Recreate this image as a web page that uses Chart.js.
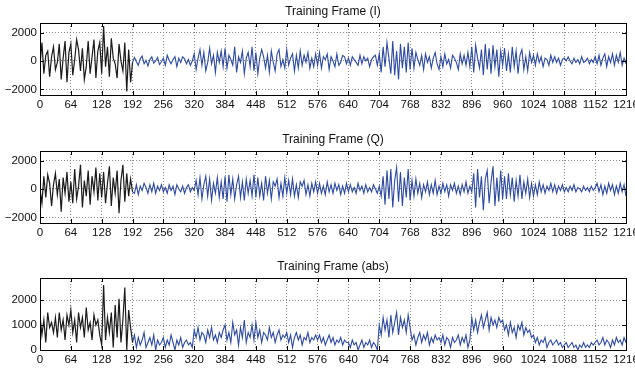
<!DOCTYPE html>
<html>
<head>
<meta charset="utf-8">
<script src="https://cdn.jsdelivr.net/npm/chart.js@4/dist/chart.umd.min.js"></script>
<style>
  body { margin: 0; background: #fff; }
  #wrap { position: relative; width: 635px; height: 370px; overflow: hidden; }
  canvas { position: absolute; left: 0; }
</style>
</head>
<body>
<div id="wrap">
  <canvas id="chartI" width="635" height="120" style="top:0px"></canvas>
  <canvas id="chartQ" width="635" height="120" style="top:128px"></canvas>
  <canvas id="chartAbs" width="635" height="115" style="top:255px"></canvas>
</div>
<script>
// sample spacing of the values below, and where the training part (black) ends
const STEP = 4;
const SPLIT = 192;

const X_TICKS = [0, 64, 128, 192, 256, 320, 384, 448, 512, 576, 640, 704, 768, 832, 896, 960, 1024, 1088, 1152, 1216];
const IQ_TICKS = [-2000, 0, 2000];
const ABS_TICKS = [0, 1000, 2000];

const TITLES = ['Training Frame (I)', 'Training Frame (Q)', 'Training Frame (abs)'];

// one line = 64 samples (16 values)
const I_VALUES = [
  -300, 1300, -900, 400, 700, -1100, 300, 1000, -600, -100, 1200, -1300, 200, 1400, -1500, 600,
  1200, -1000, 100, 1500, 800, -700, 900, -1300, -400, 1400, -900, 300, 1500, -1200, 700, 1300,
  -900, 2450, -400, 1000, -1100, 1600, 200, -200, -1200, 1200, 0, -700, 1300, -2150, 800, -1500,
  -100, 250, -50, -300, 150, 350, -200, 50, -350, 100, 300, -150, 0, 250, -250, -50,
  200, -300, 400, 50, -200, 100, 300, -400, 200, -100, 300, 150, -200, 100, -300, 0,
  500, -600, 200, 800, -300, 600, -700, -100, 900, -200, 400, -800, 600, -100, 700, -400,
  900, -500, 400, 100, -300, 1000, -800, 300, -100, 700, -900, 200, 600, -400, 1000, -700,
  600, -900, 200, 800, 300, -500, 400, -800, 700, -100, -700, 500, 800, -400, 100, -500,
  800, -300, 200, 500, -700, 400, -500, 700, -300, 400, -100, 600, -500, 200, -400, 500,
  -300, 600, -500, 300, 100, 500, -600, 300, 0, -400, 500, -300, -100, 400, 300, -200,
  200, -300, 300, 100, -100, -300, 400, -200, 300, 0, 200, -400, 100, 300, 400, -300,
  500, -800, 1000, -400, 1300, 200, -900, 1400, -1000, 700, -1300, 1200, -500, 1000, -800, 1300,
  -600, 900, -500, 600, 100, -300, 400, -600, 500, -100, 300, -500, 200, 600, -200, -600,
  300, -400, 500, -200, 100, -500, 400, 200, -100, -600, 500, -200, 400, -300, 600, -400,
  1000, -800, 1100, 200, -500, 800, -1000, 1200, -600, 900, -900, 1100, -400, 800, -1100, 700,
  -300, 900, -700, 500, -800, 1000, -400, 700, -900, 400, 800, -600, 300, -700, 600, -100,
  400, -300, 500, -100, 300, -400, 200, 100, -300, 400, -100, 300, -100, 200, -300, 100,
  200, 0, 300, 0, -200, 200, -100, 100, -200, 300, -100, 0, 200, -200, 100, -100,
  300, -200, 400, -300, 200, 500, -400, 300, -100, 500, -300, 400, -100, 600, -300, 200,
  -200
];

const Q_VALUES = [
  0, -1000, 900, -600, 1000, 400, -1200, 300, 1100, -400, 700, -1600, 800, -300, 1200, -900,
  500, -1000, 1400, -700, 200, 1700, -1300, 600, -500, 1300, -1100, 900, -200, 1500, -800, 1100,
  -600, 1200, -1000, 400, 1600, -1200, 800, -300, 1300, -1700, 600, 1700, -900, 1100, -500, 700,
  -200, -300, 300, -400, 200, -100, 400, 100, -300, 300, -200, 400, -300, 200, -100, 300,
  -200, 100, -300, 300, -100, 200, -400, 300, 0, -200, 200, -300, 100, 300, -200, 100,
  -100, 600, -400, 800, -700, 300, 900, -500, 700, -800, 400, -300, 800, -600, 500, -700,
  900, -900, 1000, -400, 700, -700, 300, 900, -600, 500, -800, 700, -300, 600, -500, 1000,
  -600, 800, -500, 400, -800, 900, -300, 600, -700, 500, 200, 700, -600, 400, -500, 800,
  -300, 600, -400, 700, -500, 300, -600, 500, 200, 600, -400, 300, -500, 400, -200, 500,
  -300, 400, -300, 200, -400, 500, -200, 300, -300, 400, -100, 300, -400, 200, -300, 400,
  -200, 300, -200, 100, -300, 400, -100, 200, -300, 300, -200, 100, -200, 300, 0, -300,
  200, -500, 900, -1100, 1300, -700, 1400, -1300, 600, 1500, -900, 1200, -1200, 800, -600, 1400,
  -800, 600, -500, 700, -300, 400, -600, 300, -200, 500, -400, 300, -300, 600, -400, 200,
  -300, 400, -200, 300, -500, 300, -100, 400, -300, 200, -400, 300, -200, 500, -300, 200,
  -200, 1100, -1300, 1400, -600, 900, -1500, 700, 1300, -1000, 500, 1600, -1200, 800, -900, 1300,
  -700, 900, -700, 1100, -400, 800, -900, 600, -500, 1000, -700, 500, -300, 700, -600, 400,
  -500, 300, -400, 500, -200, 300, -300, 200, -100, 400, -200, 300, -300, 200, -100, 300,
  -200, 100, -200, 200, -100, 300, -200, 100, 0, -200, 200, -100, 100, -200, 200, -100,
  100, 400, -200, 300, -400, 200, -300, 400, -100, 300, -400, 200, -300, 400, -200, 300,
  -500
];

const ABS_VALUES = [
  1400, 600, 1200, 300, 1500, 900, 1100, 700, 1300, 500, 1500, 800, 1200, 400, 1400, 1000,
  1600, 700, 1200, 300, 1500, 900, 1300, 500, 1700, 800, 1100, 400, 1400, 1000, 1200, 600,
  200, 2600, 400, 1300, 700, 1500, 100, 1800, 500, 2050, 300, 1200, 2500, 0, 1600, 900,
  300, 600, 100, 500, 200, 400, 700, 100, 300, 500, 200, 600, 0, 400, 200, 300,
  500, 100, 400, 200, 600, 300, 0, 400, 200, 500, 100, 300, 400, 200, 300, 100,
  800, 500, 900, 400, 700, 600, 300, 800, 500, 900, 400, 600, 300, 700, 500, 800,
  1000, 400, 700, 300, 1100, 600, 800, 200, 900, 500, 1200, 300, 700, 500, 1000, 400,
  1100, 500, 800, 300, 700, 600, 400, 900, 500, 700, 300, 600, 800, 400, 600, 500,
  700, 300, 600, 100, 500, 700, 400, 600, 200, 500, 400, 700, 300, 500, 400, 600,
  400, 600, 300, 500, 200, 400, 600, 300, 500, 200, 400, 300, 500, 200, 400, 300,
  300, 100, 400, 200, 300, 0, 200, 400, 100, 300, 200, 400, 100, 300, 200, 0,
  1000, 600, 1300, 800, 1200, 500, 1400, 700, 1100, 1500, 600, 1300, 900, 1200, 700, 1400,
  900, 400, 600, 200, 500, 700, 300, 600, 400, 700, 200, 500, 300, 600, 400, 500,
  300, 600, 200, 500, 400, 100, 500, 300, 400, 600, 200, 500, 300, 600, 100, 400,
  1300, 800, 1200, 700, 1100, 1400, 900, 1200, 1500, 800, 1300, 1000, 1200, 900, 1300, 1100,
  1200, 800, 1000, 600, 1100, 700, 900, 500, 1000, 800, 1100, 600, 900, 700, 800, 500,
  600, 300, 500, 200, 400, 300, 500, 100, 300, 400, 200, 300, 400, 200, 300, 100,
  200, 300, 100, 200, 300, 100, 200, 0, 200, 100, 300, 100, 200, 100, 300, 200,
  300, 400, 200, 300, 500, 200, 400, 300, 100, 400, 200, 500, 300, 400, 200, 500,
  300
];

const FONT = '"Liberation Sans", Arial, Helvetica, sans-serif';
const BLACK = '#1b1b1b';
const BLUE = '#2d4a9e';

// box, inward tick marks on all four sides and the title (MATLAB look)
const frameBox = {
  id: 'frameBox',
  afterDatasetsDraw(chart, args, opts) {
    const { ctx, chartArea: a, scales } = chart;
    const tl = 4;
    ctx.save();
    ctx.strokeStyle = '#000';
    ctx.lineWidth = 1;
    ctx.strokeRect(Math.round(a.left) + 0.5, Math.round(a.top) + 0.5, Math.round(a.width), Math.round(a.height));
    ctx.beginPath();
    scales.x.ticks.forEach(t => {
      const px = Math.round(scales.x.getPixelForValue(t.value)) + 0.5;
      ctx.moveTo(px, a.bottom); ctx.lineTo(px, a.bottom - tl);
      ctx.moveTo(px, a.top); ctx.lineTo(px, a.top + tl);
    });
    scales.y.ticks.forEach(t => {
      const py = Math.round(scales.y.getPixelForValue(t.value)) + 0.5;
      ctx.moveTo(a.left, py); ctx.lineTo(a.left + tl, py);
      ctx.moveTo(a.right, py); ctx.lineTo(a.right - tl, py);
    });
    ctx.stroke();
    ctx.fillStyle = '#111';
    ctx.font = '12px ' + FONT;
    ctx.textAlign = 'center';
    ctx.textBaseline = 'middle';
    ctx.fillText(opts.title, (a.left + a.right) / 2, a.top - 11);
    ctx.restore();
  }
};

function toPoints(values, from, to) {
  const pts = [];
  values.forEach((v, i) => {
    const x = i * STEP;
    if (x >= from && x <= to) pts.push({ x: x, y: v });
  });
  return pts;
}

function tickText(v) {
  return v < 0 ? '\u2212' + Math.abs(v) : String(v);
}

function makeChart(id, values, title, yMin, yMax, yTicks) {
  const ctx = document.getElementById(id).getContext('2d');
  return new Chart(ctx, {
    type: 'line',
    data: {
      datasets: [
        { data: toPoints(values, 0, SPLIT), borderColor: BLACK, borderWidth: 1.2 },
        { data: toPoints(values, SPLIT, X_TICKS[X_TICKS.length - 1]), borderColor: BLUE, borderWidth: 1.1 }
      ]
    },
    options: {
      responsive: false,
      animation: false,
      events: [],
      parsing: false,
      elements: { point: { radius: 0 }, line: { tension: 0 } },
      layout: { padding: { top: 23, right: 9, left: 0, bottom: 0 } },
      plugins: {
        legend: { display: false },
        tooltip: { enabled: false },
        frameBox: { title: title }
      },
      scales: {
        x: {
          type: 'linear',
          min: 0,
          max: X_TICKS[X_TICKS.length - 1],
          afterBuildTicks: s => { s.ticks = X_TICKS.map(v => ({ value: v })); },
          afterFit: s => { s.height = id === 'chartAbs' ? 20 : 25; s.paddingLeft = 0; s.paddingRight = 0; },
          grid: { color: '#8a8a8a', lineWidth: 1, drawTicks: false },
          border: { display: false, dash: [1, 2] },
          ticks: {
            autoSkip: false, maxRotation: 0, padding: 3,
            color: '#111', font: { family: FONT, size: 11.5 },
            callback: v => tickText(v)
          }
        },
        y: {
          min: yMin,
          max: yMax,
          afterBuildTicks: s => { s.ticks = yTicks.map(v => ({ value: v })); },
          afterFit: s => { s.width = 40; s.paddingTop = 0; s.paddingBottom = 0; },
          grid: { color: '#8a8a8a', lineWidth: 1, drawTicks: false },
          border: { display: false, dash: [1, 2] },
          ticks: {
            padding: 3,
            color: '#111', font: { family: FONT, size: 11.5 },
            callback: v => tickText(v)
          }
        }
      }
    },
    plugins: [frameBox]
  });
}

makeChart('chartI', I_VALUES, TITLES[0], -2390, 2670, IQ_TICKS);
makeChart('chartQ', Q_VALUES, TITLES[1], -2390, 2670, IQ_TICKS);
makeChart('chartAbs', ABS_VALUES, TITLES[2], 0, 2880, ABS_TICKS);
</script>
</body>
</html>
